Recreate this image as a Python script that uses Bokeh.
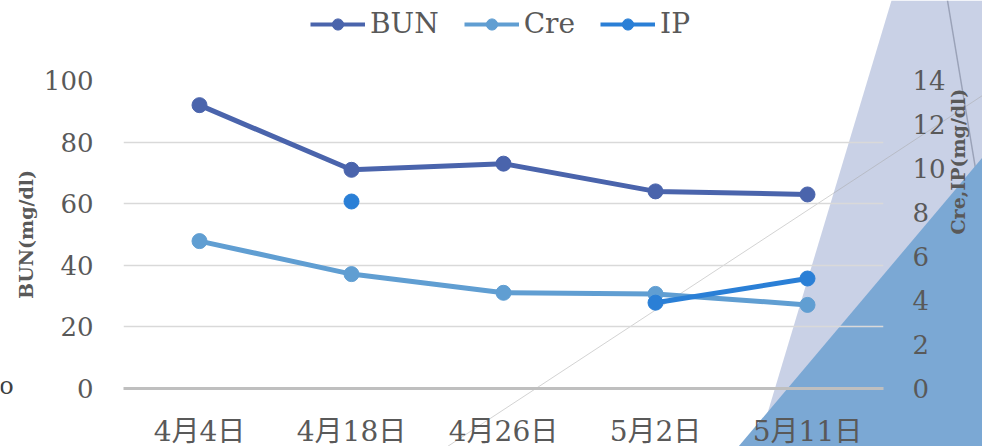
import math
from bokeh.plotting import figure
from bokeh.models import (Range1d, LinearAxis, FactorRange, FixedTicker, Legend,
                          LegendItem)
from bokeh.core.properties import value
from bokeh.embed import file_html
from bokeh.resources import INLINE
try:
    from bokeh.models import GlobalInlineStyleSheet
except Exception:  # pragma: no cover
    GlobalInlineStyleSheet = None

# ---- data ----
dates = ["4月4日", "4月18日", "4月26日", "5月2日", "5月11日"]
series = ["BUN", "Cre", "IP"]
bun = [92, 71, 73, 64, 63]
cre = [6.7, 5.2, 4.35, 4.3, 3.8]
ip = [float("nan"), 8.5, float("nan"), 3.9, 5.0]
left_ticks = [0, 20, 40, 60, 80, 100]
right_ticks = [0, 2, 4, 6, 8, 10, 12, 14]
grid_ticks = [20, 40, 60, 80, 100]

# ---- styles ----
W, H = 982, 446
C_BUN = "#4A64AC"
C_CRE = "#609ED2"
C_IP = "#2A7FD6"
colors = [C_BUN, C_CRE, C_IP]
TXT = "#595959"
SERIF = "DejaVu Serif"
XFONT = "'DejaVu Serif', 'Noto Sans CJK JP'"
POS = {"position": "absolute", "left": "0px", "top": "0px"}

# ---- background layer: decoration + legend (page pixel coordinates) ----
deco = figure(width=W, height=H, x_range=Range1d(0, W), y_range=Range1d(H, 0),
              output_backend="svg", toolbar_location=None, x_axis_type=None,
              y_axis_type=None, min_border=0, outline_line_color=None)
deco.grid.visible = False
deco.styles = dict(POS)
deco.patch([891, W, W, 757], [0, 0, H, H], fill_color="#C9D1E6", line_alpha=0)
deco.line([447, W], [H, 95], line_color="#A8A8A8", line_alpha=0.5, line_width=1)
deco.line([947, W], [0, 210], line_color="#9AA2B8", line_width=1.5)
deco.patch([W, W, 738], [157, H, H], fill_color="#7BA8D4", line_alpha=0)
deco.text([6], [385], text=["o"], text_font=value(SERIF), text_font_size="24px",
          text_color="#404040", text_align="center", text_baseline="middle")

# legend proxies (hidden renderers carrying the series, used only for the key)
idx = list(range(len(dates)))
items = []
for name, vals, col in zip(series, (bun, cre, ip), colors):
    ln = deco.line(idx, vals, line_color=col, line_width=4, visible=False)
    sc = deco.scatter(idx, vals, marker="circle", size=10, fill_color=col,
                      line_color=col, visible=False)
    items.append(LegendItem(label=name, renderers=[ln, sc]))
legend = Legend(items=items, location=(310, 406), orientation="horizontal",
                label_text_font=SERIF, label_text_font_size="28px",
                label_text_color=TXT, glyph_width=55, glyph_height=28,
                label_standoff=5, spacing=25, padding=0, margin=0,
                border_line_color=None, background_fill_alpha=0,
                inactive_fill_alpha=0)
deco.add_layout(legend)

# ---- chart layer (transparent, on top) ----
p = figure(width=W, height=H + 4, x_range=FactorRange(factors=dates),
           y_range=Range1d(0, 100), output_backend="svg", toolbar_location=None,
           min_border_left=123, min_border_right=99, min_border_top=80,
           min_border_bottom=62, outline_line_color=None)
p.styles = dict(POS)
if GlobalInlineStyleSheet is not None:
    p.stylesheets = [GlobalInlineStyleSheet(css="html, body { overflow: hidden !important; }")]
p.background_fill_alpha = 0
p.border_fill_alpha = 0
p.extra_y_ranges = {"right": Range1d(0, 14)}

p.xgrid.grid_line_color = None
p.ygrid.ticker = FixedTicker(ticks=grid_ticks)
p.ygrid.grid_line_color = "#D9D9D9"
p.ygrid.grid_line_width = 1.5

yl = p.yaxis[0]
yl.ticker = FixedTicker(ticks=left_ticks)
yl.axis_label = "BUN(mg/dl)"

yr = LinearAxis(y_range_name="right", ticker=FixedTicker(ticks=right_ticks),
                axis_label="Cre,IP(mg/dl)")
p.add_layout(yr, "right")

for ax in (yl, yr):
    ax.axis_line_color = None
    ax.major_tick_line_color = None
    ax.minor_tick_line_color = None
    ax.major_tick_out = 0
    ax.major_tick_in = 0
    ax.minor_tick_out = 0
    ax.major_label_text_font = SERIF
    ax.major_label_text_font_size = "26px"
    ax.major_label_text_color = TXT
    ax.axis_label_text_font = SERIF
    ax.axis_label_text_font_size = "19px"
    ax.axis_label_text_font_style = "bold"
    ax.axis_label_text_color = TXT
yl.major_label_standoff = 30
yl.axis_label_standoff = 4
yr.major_label_standoff = 29
yr.axis_label_standoff = 9
yr.axis_label_orientation = math.pi / 2

xa = p.xaxis[0]
xa.axis_line_color = "#BFBFBF"
xa.axis_line_width = 3
xa.major_tick_line_color = None
xa.minor_tick_line_color = None
xa.major_tick_out = 0
xa.major_tick_in = 0
xa.minor_tick_out = 0
xa.major_label_text_font = XFONT
xa.major_label_text_font_size = "28px"
xa.major_label_text_color = TXT
xa.major_label_standoff = 26

for vals, col, rng in zip((bun, cre, ip), colors, ("default", "right", "right")):
    p.line(dates, vals, line_color=col, line_width=5, y_range_name=rng)
    p.scatter(dates, vals, marker="circle", size=15, fill_color=col,
              line_color=col, y_range_name=rng)

open("out.html", "w").write(file_html([deco, p], INLINE))
